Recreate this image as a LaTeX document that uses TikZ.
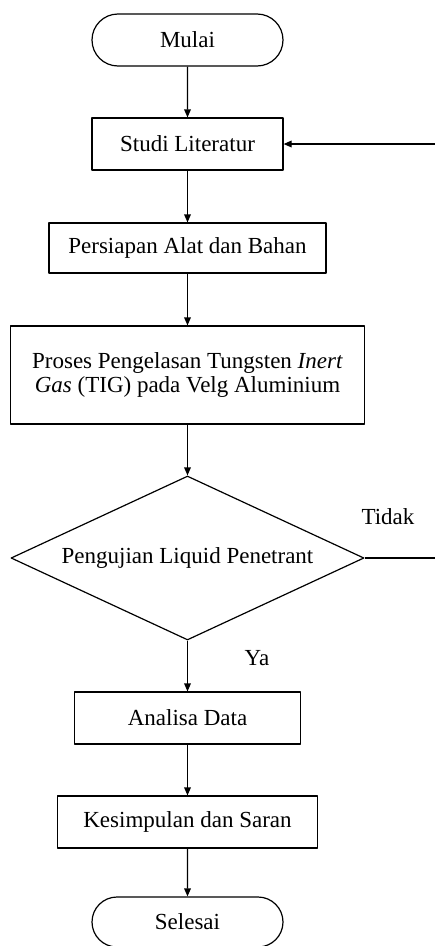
\documentclass[tikz,border=0pt]{standalone}
\usepackage{fontspec}
\setmainfont{Liberation Serif}
\usetikzlibrary{shapes.geometric,shapes.misc,arrows.meta}

\begin{document}
\begin{tikzpicture}[x=0.75pt, y=-0.75pt, >={Triangle[length=6pt,width=5pt]},
	font=\fontsize{17.25}{18}\selectfont, line join=round, line width=0.9pt,
	box/.style={draw, rectangle, minimum height=52*0.75pt, inner sep=0pt, align=center},
	term/.style={draw, rounded rectangle, minimum width=191*0.75pt, minimum height=52*0.75pt, inner sep=0pt},
	cond/.style={draw, diamond, aspect=2.15, minimum width=353*0.75pt, minimum height=164*0.75pt, inner sep=0pt}]
	\def\xm{187.5}
	\clip (0,0) rectangle (435,946);
	\node[term] (mulai) at (\xm,40) {Mulai};
	\node[box, minimum width=191*0.75pt] (studi) at (\xm,144) {Studi Literatur};
	\node[box, minimum width=277*0.75pt, minimum height=50*0.75pt] (persiapan) at (\xm,248) {Persiapan Alat dan Bahan};
	\node[box, minimum width=354*0.75pt, minimum height=98*0.75pt] (proses) at (\xm,375)
		{Proses Pengelasan Tungsten \textit{Inert}\\ \textit{Gas} (TIG) pada Velg Aluminium};
	\node[cond] (uji) at (\xm,558) {Pengujian Liquid Penetrant};
	\node[box, minimum width=226*0.75pt] (analisa) at (\xm,718) {Analisa Data};
	\node[box, minimum width=260*0.75pt] (kesimpulan) at (\xm,822) {Kesimpulan dan Saran};
	\node[term, minimum height=50*0.75pt] (selesai) at (\xm,922) {Selesai};
	\node (tidak) at (388,517) {Tidak};
	\node (ya) at (257,658) {Ya};
	\coordinate (balik) at (440,0);
	% alur utama
	\draw[->] (mulai) -- (studi);
	\draw[->] (studi) -- (persiapan);
	\draw[->] (persiapan) -- (proses);
	\draw[->] (proses) -- (uji);
	\draw[->] (uji) -- (analisa);
	\draw[->] (analisa) -- (kesimpulan);
	\draw[->] (kesimpulan) -- (selesai);
	% kembali jika tidak lolos
	\draw[->] (uji.east) -- (uji.east -| balik) |- (studi.east);
\end{tikzpicture}
\end{document}
